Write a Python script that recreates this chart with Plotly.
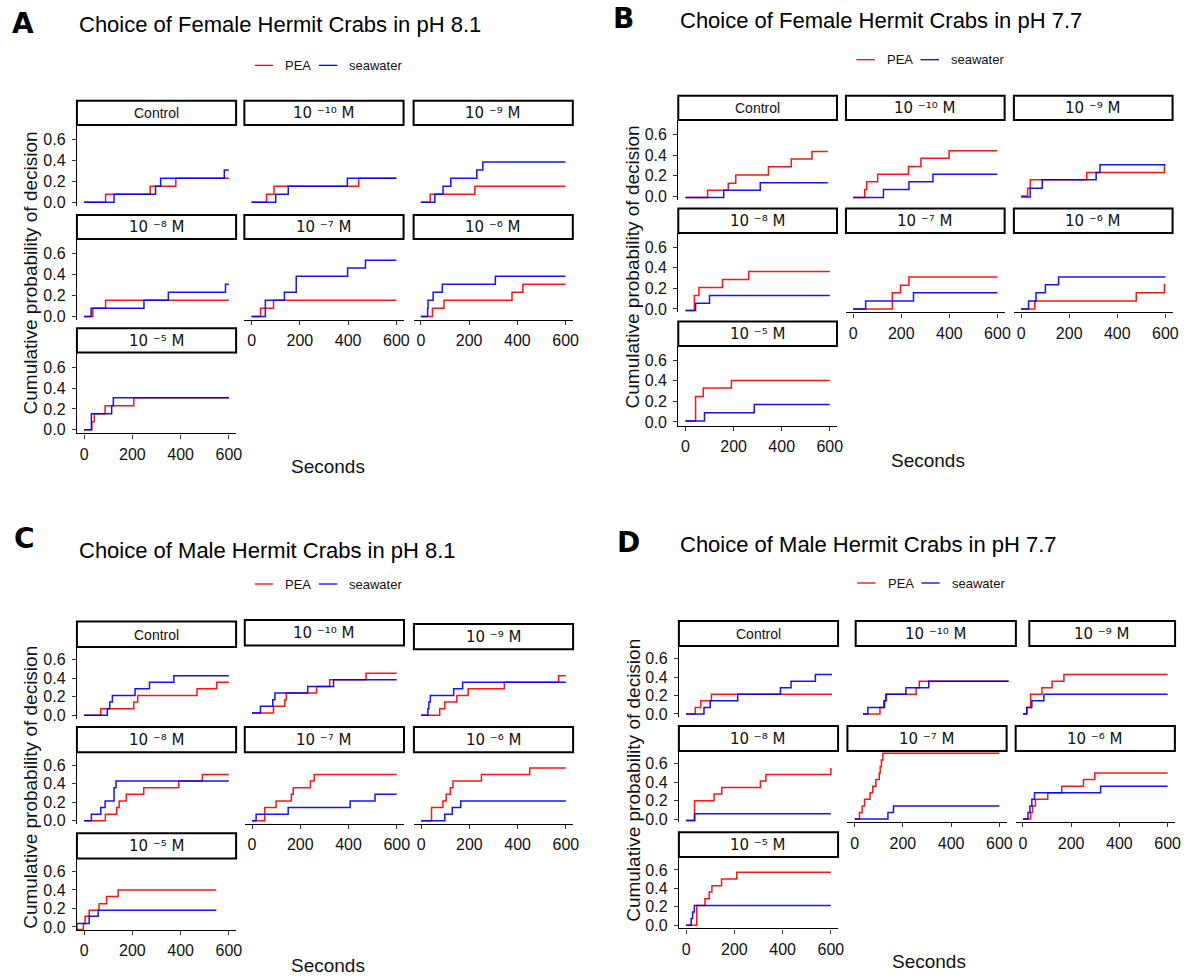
import plotly.graph_objects as go

W, H = 1197, 980

# ---------------------------------------------------------------- data ----
FACETS = ["Control", "1e-10", "1e-9", "1e-8", "1e-7", "1e-6", "1e-5"]
STRIP_TEXT = {
    "Control": "Control",
    "1e-10": "10 \u207b\u00b9\u2070 M",
    "1e-9": "10 \u207b\u2079 M",
    "1e-8": "10 \u207b\u2078 M",
    "1e-7": "10 \u207b\u2077 M",
    "1e-6": "10 \u207b\u2076 M",
    "1e-5": "10 \u207b\u2075 M",
}
SERIES = ["PEA", "seawater"]
X_TICKS = [0, 200, 400, 600]
Y_TICKS = [0.0, 0.2, 0.4, 0.6]
Y_TICK_TEXT = ["0.0", "0.2", "0.4", "0.6"]

# each entry: (seconds, cumulative probability) at every step of the curve
# A: females, pH 8.1
A_PEA = {
    "Control": ([0, 89, 274, 380, 600], [0, 0.077, 0.154, 0.231, 0.231]),
    "1e-10": ([0, 62, 93, 444, 600], [0, 0.077, 0.154, 0.231, 0.231]),
    "1e-9": ([0, 39, 224, 600], [0, 0.077, 0.154, 0.154]),
    "1e-8": ([0, 36, 89, 600], [0, 0.077, 0.154, 0.154]),
    "1e-7": ([0, 37, 91, 600], [0, 0.077, 0.154, 0.154]),
    "1e-6": ([0, 48, 96, 378, 423, 600], [0, 0.077, 0.154, 0.231, 0.308, 0.308]),
    "1e-5": ([0, 32, 42, 87, 206, 600], [0, 0.077, 0.154, 0.231, 0.308, 0.308]),
}
A_SEA = {
    "Control": ([0, 124, 296, 317, 581, 600], [0, 0.077, 0.154, 0.231, 0.308, 0.308]),
    "1e-10": ([0, 100, 152, 397, 600], [0, 0.077, 0.154, 0.231, 0.231]),
    "1e-9": ([0, 58, 92, 124, 232, 257, 600], [0, 0.077, 0.154, 0.231, 0.308, 0.385, 0.385]),
    "1e-8": ([0, 29, 248, 349, 586, 600], [0, 0.077, 0.154, 0.231, 0.308, 0.308]),
    "1e-7": ([0, 57, 136, 185, 398, 472, 600], [0, 0.154, 0.231, 0.385, 0.462, 0.538, 0.538]),
    "1e-6": ([0, 28, 30, 51, 89, 309, 600], [0, 0.077, 0.154, 0.231, 0.308, 0.385, 0.385]),
    "1e-5": ([0, 30, 114, 121, 600], [0, 0.154, 0.231, 0.308, 0.308]),
}

# B: females, pH 7.7
B_PEA = {
    "Control": ([0, 92, 178, 209, 345, 440, 526, 592], [-0.015, 0.057, 0.124, 0.206, 0.286, 0.362, 0.435, 0.435]),
    "1e-10": ([0, 48, 56, 102, 230, 282, 399, 600], [-0.015, 0.065, 0.14, 0.213, 0.289, 0.368, 0.441, 0.441]),
    "1e-9": ([0, 27, 38, 273, 596, 600], [0, 0.076, 0.159, 0.229, 0.3, 0.3]),
    "1e-8": ([0, 37, 56, 154, 263, 600], [-0.016, 0.13, 0.209, 0.287, 0.365, 0.365]),
    "1e-7": ([0, 163, 197, 232, 600], [0, 0.157, 0.23, 0.31, 0.31]),
    "1e-6": ([0, 57, 479, 596, 600], [0, 0.078, 0.157, 0.235, 0.235]),
    "1e-5": ([0, 42, 74, 191, 600], [0.01, 0.248, 0.33, 0.403, 0.403]),
}
B_SEA = {
    "Control": ([0, 159, 311, 592], [-0.015, 0.057, 0.13, 0.13]),
    "1e-10": ([0, 126, 232, 332, 600], [-0.015, 0.063, 0.14, 0.213, 0.213]),
    "1e-9": ([0, 38, 88, 312, 328, 600], [-0.01, 0.076, 0.159, 0.229, 0.305, 0.305]),
    "1e-8": ([0, 42, 100, 600], [-0.016, 0.055, 0.13, 0.13]),
    "1e-7": ([0, 52, 251, 600], [0, 0.078, 0.157, 0.157]),
    "1e-6": ([0, 31, 62, 101, 156, 600], [0, 0.078, 0.157, 0.235, 0.31, 0.31]),
    "1e-5": ([0, 79, 286, 600], [0.01, 0.09, 0.17, 0.17]),
}

# C: males, pH 8.1
C_PEA = {
    "Control": ([0, 69, 206, 222, 468, 550, 600], [0, 0.071, 0.143, 0.214, 0.286, 0.357, 0.357]),
    "1e-10": ([0, 89, 136, 142, 268, 322, 473, 600], [0.025, 0.097, 0.169, 0.24, 0.31, 0.384, 0.456, 0.456]),
    "1e-9": ([0, 77, 98, 148, 195, 345, 570, 600], [0, 0.071, 0.143, 0.214, 0.286, 0.357, 0.429, 0.429]),
    "1e-8": ([0, 88, 135, 145, 175, 247, 392, 490, 600], [0, 0.071, 0.143, 0.214, 0.286, 0.357, 0.429, 0.5, 0.5]),
    "1e-7": ([0, 53, 100, 163, 171, 242, 258, 600], [0, 0.143, 0.214, 0.286, 0.357, 0.429, 0.5, 0.5]),
    "1e-6": ([0, 43, 90, 104, 121, 132, 250, 450, 600], [0, 0.143, 0.214, 0.286, 0.357, 0.429, 0.5, 0.571, 0.571]),
    "1e-5": ([-45, -3, 4, 21, 62, 93, 141, 548], [-0.029, 0.036, 0.114, 0.179, 0.25, 0.329, 0.4, 0.4]),
}
C_SEA = {
    "Control": ([0, 96, 106, 117, 211, 271, 372, 600], [0, 0.071, 0.143, 0.214, 0.286, 0.357, 0.429, 0.429]),
    "1e-10": ([0, 35, 86, 95, 231, 338, 600], [0.025, 0.097, 0.169, 0.24, 0.31, 0.384, 0.384]),
    "1e-9": ([0, 28, 32, 38, 135, 172, 600], [0, 0.071, 0.143, 0.214, 0.286, 0.357, 0.357]),
    "1e-8": ([0, 30, 69, 87, 124, 132, 600], [0, 0.071, 0.143, 0.214, 0.357, 0.429, 0.429]),
    "1e-7": ([0, 17, 150, 407, 510, 600], [0, 0.071, 0.143, 0.214, 0.286, 0.286]),
    "1e-6": ([0, 98, 129, 164, 600], [0, 0.071, 0.143, 0.214, 0.214]),
    "1e-5": ([-45, -30, 21, 58, 548], [-0.029, 0.036, 0.114, 0.179, 0.179]),
}

# D: males, pH 7.7
D_PEA = {
    "Control": ([0, 38, 61, 105, 605], [0, 0.071, 0.143, 0.214, 0.214]),
    "1e-10": ([0, 70, 86, 97, 219, 232, 600], [0, 0.071, 0.143, 0.214, 0.286, 0.357, 0.357]),
    "1e-9": ([0, 16, 32, 79, 121, 170, 600], [0, 0.071, 0.214, 0.286, 0.357, 0.429, 0.429]),
    "1e-8": ([0, 35, 116, 148, 308, 331, 600], [-0.015, 0.2, 0.271, 0.342, 0.414, 0.485, 0.556]),
    "1e-7": ([0, 20, 31, 41, 64, 75, 88, 102, 106, 111, 117, 600],
             [0, 0.071, 0.143, 0.214, 0.286, 0.357, 0.429, 0.5, 0.571, 0.643, 0.714, 0.714]),
    "1e-6": ([0, 32, 40, 52, 103, 161, 251, 298, 600], [0, 0.071, 0.143, 0.214, 0.286, 0.357, 0.429, 0.5, 0.5]),
    "1e-5": ([0, 44, 78, 96, 107, 147, 210, 600], [0, 0.215, 0.287, 0.36, 0.43, 0.503, 0.575, 0.575]),
}
D_SEA = {
    "Control": ([0, 74, 100, 214, 391, 435, 536, 605], [0, 0.071, 0.143, 0.214, 0.286, 0.357, 0.429, 0.429]),
    "1e-10": ([0, 20, 89, 94, 177, 271, 600], [0, 0.071, 0.143, 0.214, 0.286, 0.357, 0.357]),
    "1e-9": ([0, 16, 37, 87, 600], [0, 0.071, 0.143, 0.214, 0.214]),
    "1e-8": ([0, 35, 600], [-0.015, 0.058, 0.058]),
    "1e-7": ([0, 138, 161, 600], [0, 0.071, 0.143, 0.143]),
    "1e-6": ([0, 21, 29, 37, 48, 322, 600], [0, 0.071, 0.143, 0.214, 0.286, 0.357, 0.357]),
    "1e-5": ([0, 21, 27, 34, 600], [0, 0.072, 0.144, 0.215, 0.215]),
}

# ------------------------------------------------------------- styling ----
RED, BLUE = "#ff0000", "#0000ff"
X_RANGE = [-30, 630]
Y_RANGE = [-0.035, 0.74]
SANS = "Liberation Sans, Arial, sans-serif"
MATH = "DejaVu Sans, sans-serif"
INK = "#111111"

# pixel geometry of the four facet grids
PANELS = [
    dict(letter="A", title="Choice of Female Hermit Crabs in pH 8.1", pea=A_PEA, sea=A_SEA,
         letter_xy=(23, 24), title_xy=(77.3, 24.8), legend_x=256, legend_y=65.7,
         cols=[(77.3, 237.3), (245.6, 405.6), (415.7, 575.7)],
         bottoms=[207.0, 321.7, 435.7], h=81.4, strip=24.3,
         ylab_xy=(31, 274), xlab_xy=(330, 469)),
    dict(letter="B", title="Choice of Female Hermit Crabs in pH 7.7", pea=B_PEA, sea=B_SEA,
         letter_xy=(627, 19), title_xy=(681.7, 20.8), legend_x=860.7, legend_y=60,
         cols=[(681.7, 841.2), (850.2, 1009.7), (1019.0, 1178.5)],
         bottoms=[200.7, 314.1, 427.7], h=80.0, strip=24.5,
         ylab_xy=(636, 268), xlab_xy=(933, 462.7)),
    dict(letter="C", title="Choice of Male Hermit Crabs in pH 8.1", pea=C_PEA, sea=C_SEA,
         letter_xy=(25, 541), title_xy=(77.3, 553), legend_x=256, legend_y=587,
         cols=[(77.3, 237.3), (246.0, 406.0), (416.0, 576.0)],
         bottoms=[722.2, 828.2, 934.9], h=72.0, strip=25.5,
         strip_dy={"1e-10": -1.5, "1e-9": 2.5},
         ylab_xy=(31, 791), xlab_xy=(330, 970)),
    dict(letter="D", title="Choice of Male Hermit Crabs in pH 7.7", pea=D_PEA, sea=D_SEA,
         letter_xy=(632, 545), title_xy=(681.7, 547), legend_x=861.5, legend_y=586,
         cols=[(682.3, 842.3), (851.7, 1011.7), (1020.8, 1180.8)],
         bottoms=[720.9, 826.5, 933.2], h=71.7, strip=25.0,
         panel_x={"1e-10": (860.0, 1021.0)},
         strip_x={"1e-10": (860.0, 1021.0), "1e-9": (1034.5, 1181.0)},
         ylab_xy=(636, 784), xlab_xy=(934, 966.7)),
]


def px(x):
    return x / W


def py(y):
    return 1 - y / H


fig = go.Figure()
layout_axes = {}
shapes = []
annotations = []

k = 0
for P in PANELS:
    for i, fac in enumerate(FACETS):
        k += 1
        r, c = divmod(i, 3)
        x0, x1 = P.get("panel_x", {}).get(fac, P["cols"][c])
        bottom = P["bottoms"][r]
        top = bottom - P["h"]
        suffix = "" if k == 1 else str(k)
        show_x = r == 2 or (r == 1 and c > 0)
        show_y = c == 0

        layout_axes["xaxis" + suffix] = dict(
            domain=[px(x0), px(x1)], anchor="y" + suffix, range=X_RANGE,
            showgrid=False, zeroline=False, visible=show_x,
            showline=True, linecolor="black", linewidth=1.2,
            ticks="outside", ticklen=4, tickwidth=1, tickcolor="#333333",
            tickvals=X_TICKS, tickfont=dict(family=SANS, size=16, color=INK),
            ticklabelstandoff=2,
        )
        layout_axes["yaxis" + suffix] = dict(
            domain=[py(bottom), py(top)], anchor="x" + suffix, range=Y_RANGE,
            showgrid=False, zeroline=False, visible=show_y,
            showline=True, linecolor="black", linewidth=1.2,
            ticks="outside", ticklen=4, tickwidth=1, tickcolor="#333333",
            tickvals=Y_TICKS, ticktext=Y_TICK_TEXT,
            tickfont=dict(family=SANS, size=16, color=INK),
            ticklabelstandoff=3,
        )

        for data, color in ((P["pea"], RED), (P["sea"], BLUE)):
            t, p = data[fac]
            fig.add_trace(go.Scatter(
                x=t, y=p, mode="lines", xaxis="x" + suffix, yaxis="y" + suffix,
                line=dict(color=color, width=1.5, shape="hv"), opacity=0.92,
                showlegend=False, hoverinfo="skip",
            ))

        # facet strip
        sx0, sx1 = P.get("strip_x", {}).get(fac, (x0, x1))
        sy1 = top + P.get("strip_dy", {}).get(fac, 0)
        sy0 = sy1 - P["strip"]
        shapes.append(dict(type="rect", xref="paper", yref="paper",
                           x0=px(sx0), x1=px(sx1), y0=py(sy1), y1=py(sy0),
                           line=dict(color="black", width=2), fillcolor="white"))
        annotations.append(dict(
            text=STRIP_TEXT[fac], xref="paper", yref="paper",
            x=px((sx0 + sx1) / 2), y=py((sy0 + sy1) / 2 + 0.5),
            xanchor="center", yanchor="middle", showarrow=False,
            font=dict(family=SANS if fac == "Control" else MATH,
                      size=14 if fac == "Control" else 15, color=INK),
        ))

    # panel letter and title
    lx, ly = P["letter_xy"]
    annotations.append(dict(text="<b>%s</b>" % P["letter"], xref="paper", yref="paper",
                            x=px(lx), y=py(ly), xanchor="center", yanchor="middle",
                            showarrow=False, font=dict(family="DejaVu Sans", size=28, color="black")))
    tx, ty = P["title_xy"]
    annotations.append(dict(text=P["title"], xref="paper", yref="paper",
                            x=px(tx), y=py(ty), xanchor="left", yanchor="middle",
                            showarrow=False, font=dict(family=SANS, size=22, color="black")))

    # legend keys
    gx, gy = P["legend_x"], P["legend_y"]
    for j, (name, color) in enumerate(zip(SERIES, (RED, BLUE))):
        kx = gx + j * 64.5
        shapes.append(dict(type="line", xref="paper", yref="paper",
                           x0=px(kx), x1=px(kx + 18.5), y0=py(gy), y1=py(gy),
                           line=dict(color=color, width=1.3)))
        annotations.append(dict(text=name, xref="paper", yref="paper",
                                x=px(kx + 28.5), y=py(gy), xanchor="left", yanchor="middle",
                                showarrow=False, font=dict(family=SANS, size=13, color=INK)))

    # axis titles
    ax, ay = P["ylab_xy"]
    annotations.append(dict(text="Cumulative probability of decision", xref="paper", yref="paper",
                            x=px(ax), y=py(ay), xanchor="center", yanchor="middle",
                            textangle=-90, showarrow=False,
                            font=dict(family=SANS, size=19, color=INK)))
    bx, by = P["xlab_xy"]
    annotations.append(dict(text="Seconds", xref="paper", yref="paper",
                            x=px(bx), y=py(by), xanchor="center", yanchor="middle",
                            showarrow=False, font=dict(family=SANS, size=19, color=INK)))

fig.update_layout(
    width=W, height=H, margin=dict(l=0, r=0, t=0, b=0),
    paper_bgcolor="white", plot_bgcolor="white",
    showlegend=False, shapes=shapes, annotations=annotations,
    **layout_axes,
)

fig.write_html("out.html")
